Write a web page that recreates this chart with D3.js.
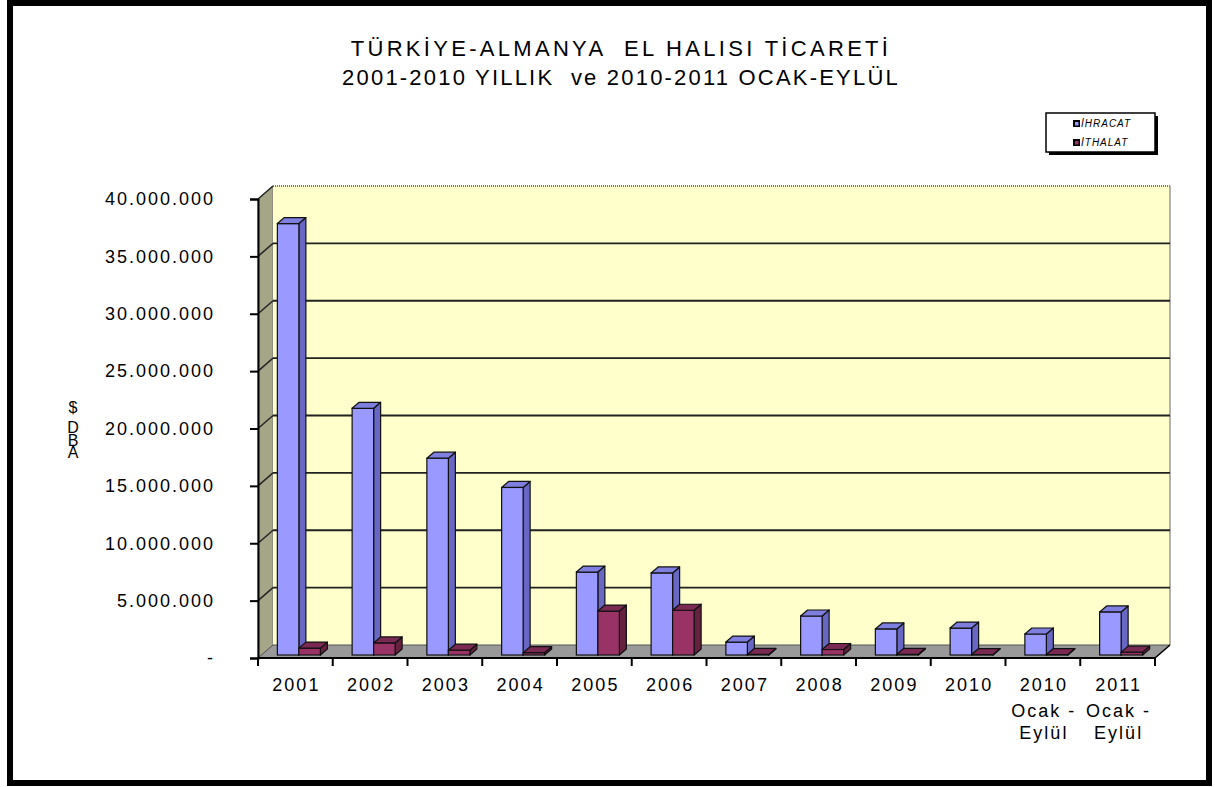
<!DOCTYPE html>
<meta charset="utf-8">
<style>
body { margin: 0; background: #fff; }
svg text { font-family: "Liberation Sans", Arial, sans-serif; fill: #000; }
.ylab text { font-size: 18px; letter-spacing: 2px; }
.xlab text { font-size: 18px; letter-spacing: 2px; }
.title { font-size: 22px; white-space: pre; }
.leg text { font-size: 10px; font-style: italic; letter-spacing: 1px; }
</style>
<body>
<script src="https://cdn.jsdelivr.net/npm/d3@7"></script>
<script>

var categories = ["2001", "2002", "2003", "2004", "2005", "2006", "2007", "2008", "2009", "2010", "2010 Ocak - Eylül", "2011 Ocak - Eylül"];
var catLines = [["2001"], ["2002"], ["2003"], ["2004"], ["2005"], ["2006"], ["2007"], ["2008"], ["2009"], ["2010"], ["2010", "Ocak -", "Eylül"], ["2011", "Ocak -", "Eylül"]];
var seriesNames = ["İHRACAT", "İTHALAT"];
var ihracat = [37600000, 21500000, 17150000, 14600000, 7230000, 7150000, 1130000, 3400000, 2270000, 2350000, 1830000, 3750000];
var ithalat = [600000, 1050000, 420000, 200000, 3830000, 3900000, 50000, 480000, 60000, 40000, 40000, 250000];
var yTicks = [0, 5000000, 10000000, 15000000, 20000000, 25000000, 30000000, 35000000, 40000000];
var titleLines = ["TÜRKİYE-ALMANYA  EL HALISI TİCARETİ", "2001-2010 YILLIK  ve 2010-2011 OCAK-EYLÜL"];
var yTitleChars = ["$", "D", "B", "A"];

var colors = {
  "İHRACAT": {front: "#9999ff", top: "#7f7fe0", side: "#6868c4"},
  "İTHALAT": {front: "#993366", top: "#7a2a52", side: "#66213f"}
};

var W = 1215, H = 787;
var left = 258, right = 1155;
var dx = 15, dy = -13;          // wall depth
var bdx = 3.5, bdy = -3;        // bar front offset
var bdepthX = 7, bdepthY = -6;  // bar depth

var y = d3.scaleLinear().domain([0, 40000000]).range([658, 199]);

var x0 = d3.scaleBand().domain(categories).range([left, right])
  .paddingInner(0.4247).paddingOuter(0.21235);
var x1 = d3.scaleBand().domain(seriesNames).range([0, x0.bandwidth()]);

var loc = d3.formatLocale({decimal: ",", thousands: ".", grouping: [3], currency: ["", "$"]});
var fmt = loc.format(",");

var svg = d3.select("body").append("svg").attr("width", W).attr("height", H);

// frame
svg.append("rect").attr("x", 10).attr("y", 3).attr("width", 1199).attr("height", 780)
  .attr("fill", "#fff").attr("stroke", "#000").attr("stroke-width", 6);

// title
var titleSpacing = [3.3, 2.2];
svg.selectAll("text.title").data(titleLines).join("text")
  .attr("class", "title")
  .attr("x", 621).attr("y", function(d, i) { return 56 + i * 29; })
  .attr("text-anchor", "middle")
  .style("letter-spacing", function(d, i) { return titleSpacing[i] + "px"; })
  .text(function(d) { return d; });

var y0 = y(0), yTop = y(40000000);

// side wall
svg.append("polygon")
  .attr("points", [[left, yTop], [left + dx, yTop + dy], [left + dx, y0 + dy], [left, y0]].join(" "))
  .attr("fill", "#a5a588").attr("stroke", "#777").attr("stroke-width", 1);

// back wall
svg.append("rect").attr("x", left + dx).attr("y", yTop + dy)
  .attr("width", right - left).attr("height", y0 - yTop)
  .attr("fill", "#ffffcc");
svg.append("line").attr("x1", left + dx).attr("x2", right + dx)
  .attr("y1", yTop + dy).attr("y2", yTop + dy)
  .attr("stroke", "#777").attr("stroke-width", 2).attr("stroke-dasharray", "1,1");
svg.append("line").attr("x1", right + dx).attr("x2", right + dx)
  .attr("y1", yTop + dy).attr("y2", y0 + dy)
  .attr("stroke", "#999").attr("stroke-width", 1.5);

// gridlines
var grid = svg.append("g");
grid.selectAll("line.gb").data(yTicks.filter(function(t) { return t > 0 && t < 40000000; })).join("line")
  .attr("x1", left + dx).attr("x2", right + dx)
  .attr("y1", function(d) { return y(d) + dy; }).attr("y2", function(d) { return y(d) + dy; })
  .attr("stroke", "#222").attr("stroke-width", 1.8);
grid.selectAll("line.gs").data(yTicks.filter(function(t) { return t > 0; })).join("line")
  .attr("x1", left).attr("x2", left + dx)
  .attr("y1", function(d) { return y(d); }).attr("y2", function(d) { return y(d) + dy; })
  .attr("stroke", "#222").attr("stroke-width", 1.4);

// floor
svg.append("polygon")
  .attr("points", [[left, y0], [right, y0], [right + dx, y0 + dy], [left + dx, y0 + dy]].join(" "))
  .attr("fill", "#999999").attr("stroke", "#555").attr("stroke-width", 1);

// bars
var bars = [];
categories.forEach(function(c, i) {
  bars.push({cat: c, key: "İHRACAT", value: ihracat[i]});
  bars.push({cat: c, key: "İTHALAT", value: ithalat[i]});
});

var bw = x1.bandwidth();
svg.append("g").selectAll("g").data(bars).join("g")
  .each(function(d) {
    var g = d3.select(this);
    var xl = x0(d.cat) + x1(d.key) + bdx, xr = xl + bw;
    var yt = y(d.value) + bdy, yb = y0 + bdy;
    var c = colors[d.key];
    g.append("polygon")
      .attr("points", [[xr, yt], [xr + bdepthX, yt + bdepthY], [xr + bdepthX, yb + bdepthY], [xr, yb]].join(" "))
      .attr("fill", c.side).attr("stroke", "#111").attr("stroke-width", 1.2).attr("stroke-linejoin", "round");
    g.append("rect").attr("x", xl).attr("y", yt).attr("width", bw).attr("height", yb - yt)
      .attr("fill", c.front).attr("stroke", "#111").attr("stroke-width", 1.2);
    g.append("polygon")
      .attr("points", [[xl, yt], [xr, yt], [xr + bdepthX, yt + bdepthY], [xl + bdepthX, yt + bdepthY]].join(" "))
      .attr("fill", c.top).attr("stroke", "#111").attr("stroke-width", 1.2).attr("stroke-linejoin", "round");
  });

// y axis
var yAxis = d3.axisLeft(y).tickValues(yTicks).tickSize(8).tickPadding(35)
  .tickFormat(function(d) { return d === 0 ? "-" : fmt(d); });
var ya = svg.append("g").attr("class", "ylab").attr("transform", "translate(" + left + ",0)").call(yAxis);
ya.select(".domain").attr("stroke", "#000").attr("stroke-width", 2);
ya.selectAll(".tick line").attr("stroke", "#000").attr("stroke-width", 2);
ya.attr("font-size", null).attr("font-family", null);

// x axis line, ticks at category boundaries
var step = x0.step();
var bounds = d3.range(categories.length + 1).map(function(i) { return left + i * step; });
svg.append("line").attr("x1", left).attr("x2", right).attr("y1", y0).attr("y2", y0)
  .attr("stroke", "#000").attr("stroke-width", 2);
svg.append("line").attr("x1", right).attr("x2", right + dx).attr("y1", y0).attr("y2", y0 + dy)
  .attr("stroke", "#000").attr("stroke-width", 1.5);
svg.selectAll("line.xt").data(bounds).join("line")
  .attr("x1", function(d) { return d; }).attr("x2", function(d) { return d; })
  .attr("y1", y0).attr("y2", y0 + 8)
  .attr("stroke", "#000").attr("stroke-width", 2);

var lineY = [691, 717, 739];
var xl = svg.append("g").attr("class", "xlab");
xl.selectAll("text").data(categories).join("text")
  .attr("text-anchor", "middle")
  .each(function(d, i) {
    var t = d3.select(this);
    catLines[i].forEach(function(s, k) {
      t.append("tspan").attr("x", x0(d) + x0.bandwidth() / 2 + 1).attr("y", lineY[k]).text(s);
    });
  });

// y title (stacked letters)
var ytY = [413, 433, 446, 458];
svg.selectAll("text.yt").data(yTitleChars).join("text")
  .attr("x", 73).attr("y", function(d, i) { return ytY[i]; })
  .attr("text-anchor", "middle").attr("font-size", 16)
  .text(function(d) { return d; });

// legend
var leg = svg.append("g").attr("class", "leg");
leg.append("rect").attr("x", 1049).attr("y", 116).attr("width", 109).attr("height", 39).attr("fill", "#000");
leg.append("rect").attr("x", 1046).attr("y", 113).attr("width", 109).attr("height", 39)
  .attr("fill", "#fff").attr("stroke", "#000").attr("stroke-width", 1.5);
var li = leg.selectAll("g.li").data(seriesNames).join("g")
  .attr("transform", function(d, i) { return "translate(1073," + (120 + i * 19) + ")"; });
li.append("rect").attr("width", 7).attr("height", 7).attr("fill", "#000");
li.append("rect").attr("x", 2).attr("y", 2).attr("width", 3.5).attr("height", 3.5)
  .attr("fill", function(d) { return colors[d].front; });
li.append("text").attr("x", 8).attr("y", 7).text(function(d) { return d; });

</script>
</body>
